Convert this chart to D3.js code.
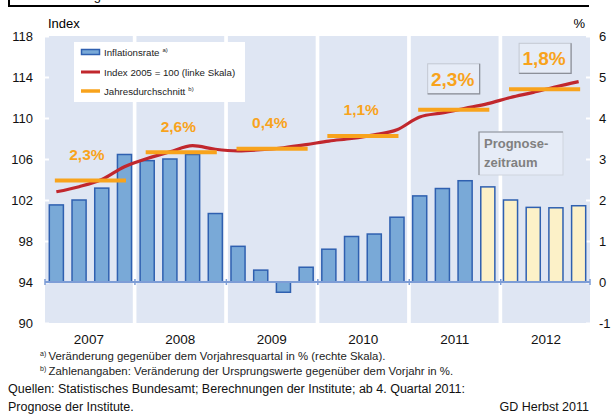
<!DOCTYPE html>
<html>
<head>
<meta charset="utf-8">
<script src="https://cdn.jsdelivr.net/npm/d3@7"></script>
<style>
  body { margin: 0; background: #fff; }
  svg { font-family: "Liberation Sans", Arial, sans-serif; }
</style>
</head>
<body>
<svg id="chart" width="616" height="414"></svg>
<script>
// Data
const years = ["2007", "2008", "2009", "2010", "2011", "2012"];
const quarterNames = ["Q1", "Q2", "Q3", "Q4"];
const quarters = years.flatMap(y => quarterNames.map(q => y + q));

// Inflationsrate, % vs. Vorjahresquartal (right axis)
const inflation = [
  1.88, 2.0, 2.29, 3.11,
  2.96, 3.0, 3.11, 1.67,
  0.87, 0.29, -0.25, 0.36,
  0.8, 1.11, 1.17, 1.58,
  2.1, 2.28, 2.47, 2.32,
  2.0, 1.82, 1.81, 1.86
];
const firstForecast = "2011Q4";

// Index 2005 = 100 (left axis)
const indexValues = [
  102.8, 103.3, 104.0, 105.25,
  106.05, 106.7, 107.3, 106.95,
  106.8, 106.9, 107.1, 107.4,
  107.75, 108.0, 108.35, 108.85,
  110.1, 110.5, 110.95, 111.4,
  112.0, 112.5, 113.05, 113.55
];

// Jahresdurchschnitt (left axis) and its labels
const annualAvg = [103.9, 106.65, 107.0, 108.25, 110.8, 112.8];
const annualLabels = ["2,3%", "2,6%", "0,4%", "1,1%", "2,3%", "1,8%"];
const boxedYears = ["2011", "2012"];

const leftTicks = [90, 94, 98, 102, 106, 110, 114, 118];
const rightTicks = [-1, 0, 1, 2, 3, 4, 5, 6];

const svg = d3.select("#chart");

const plotLeft = 45, plotRight = 590, plotTop = 36, plotBottom = 323;

const xYear = d3.scaleBand().domain(years).range([plotLeft, plotRight])
  .paddingInner(0.04).paddingOuter(0);
const xQ = d3.scaleBand().domain(quarters).range([plotLeft, plotRight])
  .paddingInner(0.38).paddingOuter(0.19);
const yL = d3.scaleLinear().domain([90, 118]).range([plotBottom, plotTop]);
const yR = d3.scaleLinear().domain([-1, 6]).range([plotBottom, plotTop]);
const qc = q => xQ(q) + xQ.bandwidth() / 2;

// header rule (bottom of title box, cut off)
svg.append("path").attr("d", "M9,0V6H589").attr("fill", "none")
  .attr("stroke", "#000").attr("stroke-width", 2);
svg.append("text").attr("x", 101).attr("y", -0.5).attr("text-anchor", "end")
  .attr("font-size", 13).text("Abbildung");

// year panels
svg.append("g").selectAll("rect").data(years).join("rect")
  .attr("x", d => xYear(d)).attr("y", plotTop)
  .attr("width", xYear.bandwidth()).attr("height", plotBottom - plotTop)
  .attr("fill", "#dfe6f3");

// axes
const axL = svg.append("g").attr("transform", `translate(${plotLeft},0)`)
  .call(d3.axisLeft(yL).tickValues(leftTicks).tickSize(-4).tickPadding(12));
const axR = svg.append("g").attr("transform", `translate(${plotRight - 4},0)`)
  .call(d3.axisRight(yR).tickValues(rightTicks).tickSize(8).tickPadding(5)
    .tickFormat(d3.format("d")));
[axL, axR].forEach(ax => {
  ax.select(".domain").remove();
  ax.selectAll("line").attr("stroke", "#fff").attr("stroke-width", 2);
  ax.selectAll("text").attr("font-size", 13).attr("fill", "#111")
    .attr("font-family", "Liberation Sans, Arial, sans-serif");
});
axR.selectAll("text").text(d => d < 0 ? "-" + Math.abs(d) : d);

svg.append("text").attr("x", 48).attr("y", 28).attr("font-size", 13).text("Index");
svg.append("text").attr("x", 585).attr("y", 28).attr("font-size", 13)
  .attr("text-anchor", "end").text("%");

// bars
const fIdx = quarters.indexOf(firstForecast);
svg.append("g").selectAll("rect").data(quarters).join("rect")
  .attr("x", d => xQ(d)).attr("width", xQ.bandwidth())
  .attr("y", (d, i) => yR(Math.max(0, inflation[i])))
  .attr("height", (d, i) => Math.abs(yR(inflation[i]) - yR(0)))
  .attr("fill", (d, i) => i >= fIdx ? "#fcf1c8" : "#79a9d7")
  .attr("stroke", "#2f60b0").attr("stroke-width", 1.5);

// zero line
svg.append("line").attr("x1", plotLeft).attr("x2", plotRight)
  .attr("y1", yR(0)).attr("y2", yR(0))
  .attr("stroke", "#7d9dd6").attr("stroke-width", 2);
svg.append("g").selectAll("line").data(years.concat(["end"])).join("line")
  .attr("x1", (d, i) => i < years.length ? xYear(d) - (i ? 1.5 : 0) : plotRight)
  .attr("x2", (d, i) => i < years.length ? xYear(d) - (i ? 1.5 : 0) : plotRight)
  .attr("y1", yR(0) - 3).attr("y2", yR(0) + 3)
  .attr("stroke", "#7d9dd6").attr("stroke-width", 1.5);

// index line
svg.append("path").datum(quarters)
  .attr("fill", "none").attr("stroke", "#c1272d").attr("stroke-width", 3.2)
  .attr("d", d3.line().x(d => qc(d)).y((d, i) => yL(indexValues[i]))
    .curve(d3.curveMonotoneX));

// annual averages
svg.append("g").selectAll("line").data(years).join("line")
  .attr("x1", d => qc(d + "Q1") - 1.5).attr("x2", d => qc(d + "Q4") + 1.5)
  .attr("y1", (d, i) => yL(annualAvg[i])).attr("y2", (d, i) => yL(annualAvg[i]))
  .attr("stroke", "#f8a31c").attr("stroke-width", 4);

// annual labels
const lab = svg.append("g");
years.forEach((y, i) => {
  const boxed = boxedYears.includes(y);
  const cx = xYear(y) + xYear.bandwidth() / 2 - 2;
  const cy = yL(annualAvg[i]) - (boxed ? 31 : 26);
  if (boxed) {
    lab.append("rect").attr("x", cx - 25).attr("y", cy - 15)
      .attr("width", 52).attr("height", 30)
      .attr("fill", "#e6ecf7").attr("stroke", "#c3c8d2").attr("stroke-width", 1);
    lab.append("path").attr("d", `M${cx + 27},${cy - 15}V${cy + 15}H${cx - 25}`)
      .attr("fill", "none").attr("stroke", "#8c9099").attr("stroke-width", 1.2);
  }
  lab.append("text").attr("x", cx).attr("y", cy + (boxed ? 7 : 5.5))
    .attr("text-anchor", "middle").attr("font-weight", "bold")
    .attr("font-size", boxed ? 19 : 15.5).attr("fill", "#f8a31c")
    .text(annualLabels[i]);
});

// Prognosezeitraum box
const pg = svg.append("g");
pg.append("rect").attr("x", 479).attr("y", 132).attr("width", 84).attr("height", 43)
  .attr("fill", "#e6ecf7").attr("stroke", "#d0d5de");
pg.append("path").attr("d", "M479,175V132H563").attr("fill", "none")
  .attr("stroke", "#8c9099").attr("stroke-width", 1.2);
pg.append("text").attr("x", 484).attr("y", 148).attr("font-size", 13)
  .attr("font-weight", "bold").attr("fill", "#808080").text("Prognose-");
pg.append("text").attr("x", 484).attr("y", 167).attr("font-size", 13)
  .attr("font-weight", "bold").attr("fill", "#808080").text("zeitraum");

// legend
const lg = svg.append("g");
lg.append("rect").attr("x", 74).attr("y", 42).attr("width", 171).attr("height", 60)
  .attr("fill", "#fff");
lg.append("rect").attr("x", 81.5).attr("y", 49.5).attr("width", 18).attr("height", 5)
  .attr("fill", "#79a9d7").attr("stroke", "#2f60b0").attr("stroke-width", 1.5);
lg.append("line").attr("x1", 81).attr("x2", 100).attr("y1", 72).attr("y2", 72)
  .attr("stroke", "#c1272d").attr("stroke-width", 3);
lg.append("line").attr("x1", 81).attr("x2", 100).attr("y1", 91).attr("y2", 91)
  .attr("stroke", "#f8a31c").attr("stroke-width", 3.5);
const legendItems = [
  { y: 55.5, text: "Inflationsrate", sup: "a)" },
  { y: 75.5, text: "Index 2005 = 100 (linke Skala)", sup: null },
  { y: 94.5, text: "Jahresdurchschnitt", sup: "b)" }
];
legendItems.forEach(it => {
  const t = lg.append("text").attr("x", 104).attr("y", it.y)
    .attr("font-size", 9.7).attr("fill", "#222").text(it.text);
  if (it.sup) t.append("tspan").attr("dx", 3).attr("dy", -3.5)
    .attr("font-size", 6).text(it.sup);
});

// year labels
svg.append("g").selectAll("text").data(years).join("text")
  .attr("x", d => xYear(d) + xYear.bandwidth() / 2).attr("y", 344)
  .attr("text-anchor", "middle").attr("font-size", 13.5).attr("fill", "#111")
  .text(d => d);

// footnotes
const notes = [
  { sup: "a)", text: "Veränderung gegenüber dem Vorjahresquartal in % (rechte Skala).", y: 360 },
  { sup: "b)", text: "Zahlenangaben: Veränderung der Ursprungswerte gegenüber dem Vorjahr in %.", y: 375 }
];
notes.forEach(n => {
  svg.append("text").attr("x", 40).attr("y", n.y - 4).attr("font-size", 7)
    .attr("fill", "#222").text(n.sup);
  svg.append("text").attr("x", 48.5).attr("y", n.y).attr("font-size", 11.4)
    .attr("fill", "#222").text(n.text);
});
svg.append("text").attr("x", 8).attr("y", 393).attr("font-size", 12.5)
  .attr("fill", "#111")
  .text("Quellen: Statistisches Bundesamt; Berechnungen der Institute; ab 4. Quartal 2011:");
svg.append("text").attr("x", 8).attr("y", 411).attr("font-size", 12.5)
  .attr("fill", "#111").text("Prognose der Institute.");
svg.append("text").attr("x", 589).attr("y", 411).attr("font-size", 12.5)
  .attr("text-anchor", "end").attr("fill", "#111").text("GD Herbst 2011");
</script>
</body>
</html>
